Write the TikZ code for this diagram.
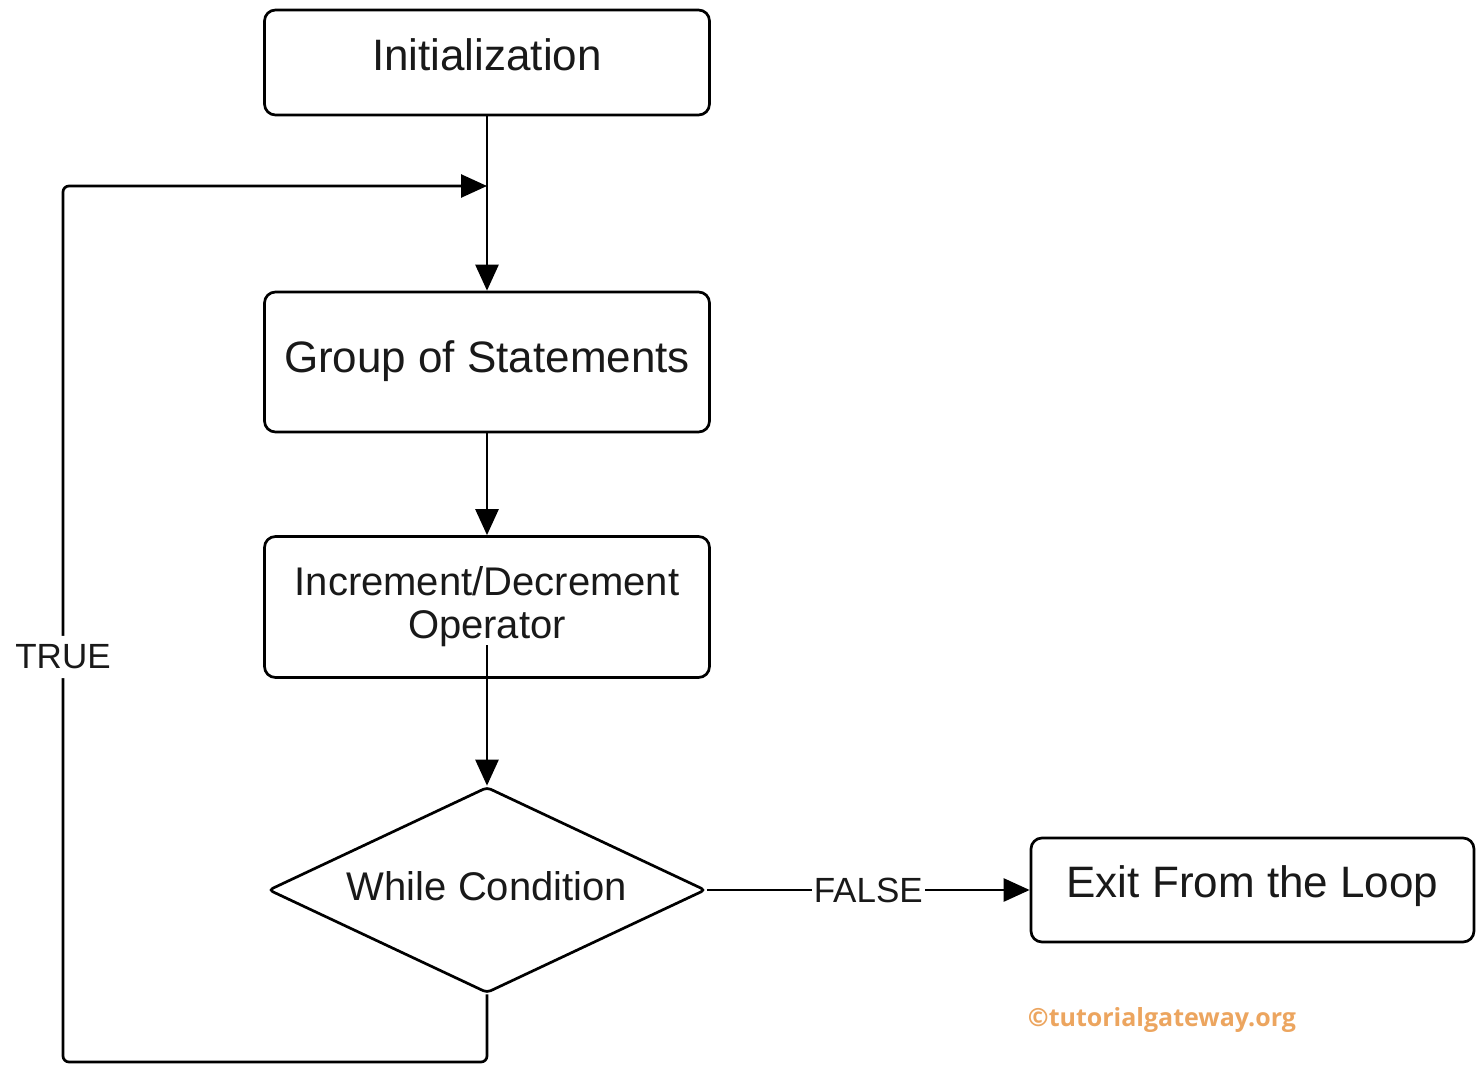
\documentclass[tikz,border=0pt]{standalone}
\usepackage{fontspec}
\setmainfont{Liberation Sans}
\newfontfamily\wmfont{Open Sans}
\usetikzlibrary{shapes.geometric,arrows.meta}
\definecolor{wmorange}{RGB}{236,165,95}
\definecolor{inkgrey}{RGB}{25,25,25}
\tikzset{
  boxnode/.style={draw=black, line width=2.7pt, rounded corners=11pt, minimum width=445pt, inner sep=0pt, align=center, text=inkgrey},
  conn/.style={line width=2.7pt, -{Triangle[length=26pt,width=23pt]}},
  edgelabel/.style={fill=white, text=inkgrey, inner xsep=2pt, inner ysep=3pt, font=\fontsize{35}{40}\selectfont}
}
\begin{document}
\begin{tikzpicture}[x=1pt,y=-1pt]
\useasboundingbox (0,0) rectangle (1476,1065);
\node[boxnode, minimum height=105pt, font=\fontsize{44}{50}\selectfont, text height=32pt, text depth=16.5pt] (init) at (487,62.5) {Initialization};
\node[boxnode, minimum height=140pt, font=\fontsize{44}{50}\selectfont, text height=32pt, text depth=10.5pt] (group) at (487,362) {Group of Statements};
\node[boxnode, minimum height=141pt, font=\fontsize{40}{43}\selectfont] (inc) at (487,607) {Increment/Decrement\\Operator};
\node[draw=black, line width=2.7pt, shape=diamond, aspect=2.12, minimum width=437pt, minimum height=206pt, inner sep=0pt, rounded corners=4pt, text=inkgrey, font=\fontsize{40}{44}\selectfont, text height=30pt, text depth=9.4pt] (cond) at (487,890) {While Condition};
\node[boxnode, minimum width=443pt, minimum height=104pt, font=\fontsize{44}{50}\selectfont, text height=32pt, text depth=16.5pt] (exit) at (1252.5,890) {Exit From the Loop};
\coordinate (merge) at (487,186);
\coordinate (incout) at (487,645);
\coordinate (loopbr) at (487,1062);
\coordinate (loopbl) at (63,1062);
\coordinate (looptl) at (63,186);
\draw[conn] (init.south) -- (group.north);
\draw[conn] (group.south) -- (inc.north);
\draw[conn] (incout) -- (cond.north);
\draw[conn, rounded corners=6pt] (cond.south) -- (loopbr) -- (loopbl) -- node[edgelabel, pos=0.4623, inner ysep=9pt] (true) {TRUE} (looptl) -- (merge);
\draw[conn] (cond.east) -- (exit.west) node[edgelabel, pos=0.5] (false) {FALSE};
\node[text=wmorange, font=\wmfont\bfseries\fontsize{25}{28}\selectfont] (wm) at (1162,1020) {©tutorialgateway.org};
\end{tikzpicture}
\end{document}
